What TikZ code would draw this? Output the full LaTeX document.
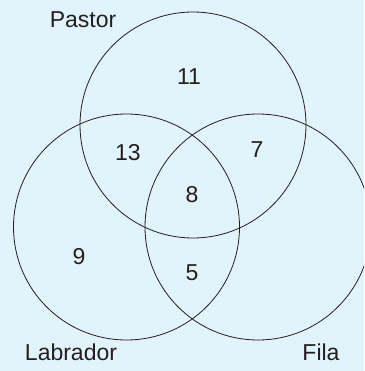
\documentclass[tikz,border=0pt]{standalone}
\usepackage{fontspec}
\setmainfont{Liberation Sans}
\definecolor{bg}{RGB}{225,243,251}
\definecolor{ink}{RGB}{35,31,32}
\begin{document}
\begin{tikzpicture}[x=1pt,y=-1pt,
  ring/.style={draw=ink,line width=0.8pt},
  lab/.style={font=\fontsize{23}{26}\selectfont,text=ink,inner sep=0pt}]
\fill[bg] (0,0) rectangle (364,371);
\useasboundingbox (0,0) rectangle (364,371);
\begin{scope}
\clip (0,0) rectangle (364,371);
\draw[ring] (193,125) circle (113);
\draw[ring] (126.5,227) circle (113);
\draw[ring] (258,227) circle (113);
\end{scope}
\node[lab] (pastor) at (83,20) {Pastor};
\node[lab] (labrador) at (71,352) {Labrador};
\node[lab] (fila) at (321,352) {Fila};
\node[lab] (n11) at (189,77) {11};
\node[lab] (n13) at (128,153) {13};
\node[lab] (n7) at (257,150) {7};
\node[lab] (n8) at (192,195) {8};
\node[lab] (n9) at (79,257) {9};
\node[lab] (n5) at (192,273) {5};
\end{tikzpicture}
\end{document}
